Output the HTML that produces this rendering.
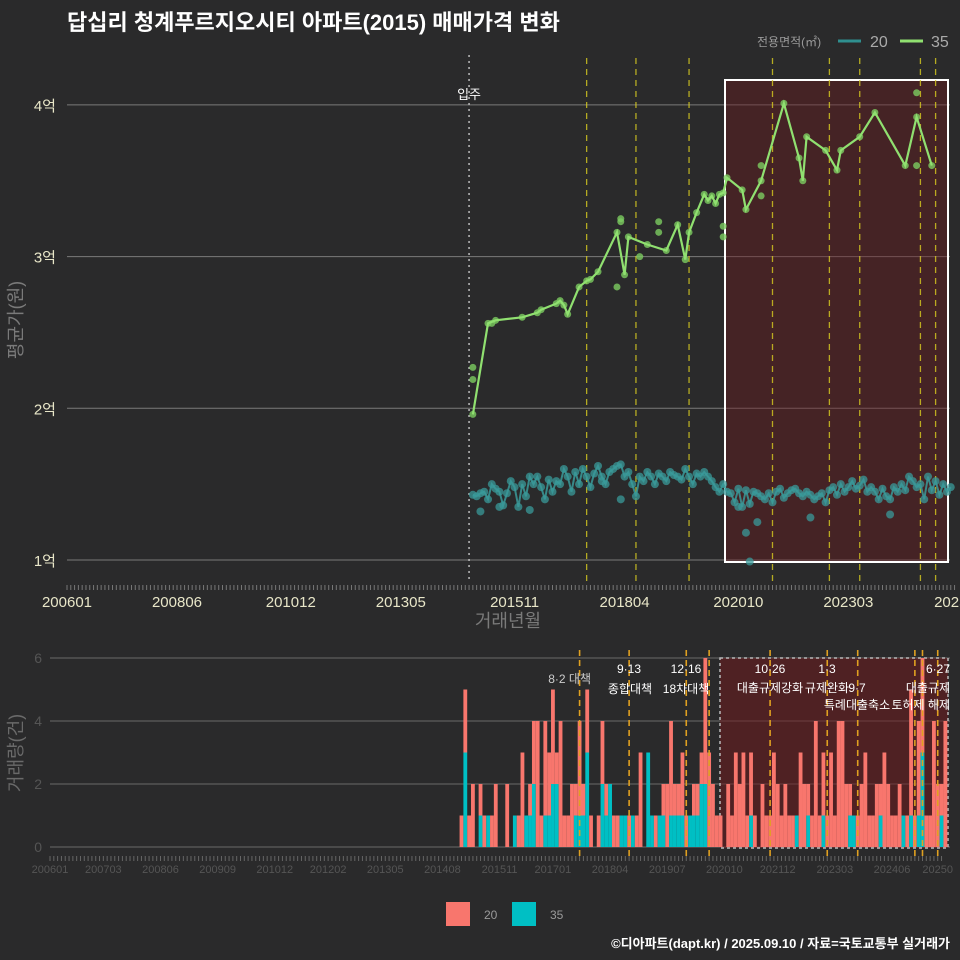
<!DOCTYPE html>
<html><head><meta charset="utf-8">
<style>
html,body{margin:0;padding:0;background:#2a2a2b;}
svg{display:block;font-family:"Liberation Sans","Noto Sans CJK KR",sans-serif;}
</style></head>
<body>
<svg id="chart" width="960" height="960" viewBox="0 0 960 960" xmlns="http://www.w3.org/2000/svg">
<rect width="960" height="960" fill="#2a2a2b"/>
<text x="67" y="30" fill="#ffffff" font-size="22" font-weight="bold">답십리 청계푸르지오시티 아파트(2015) 매매가격 변화</text>
<g>
<text x="757" y="46" fill="#9a9a9a" font-size="12">전용면적(㎡)</text>
<line x1="838" y1="41" x2="861" y2="41" stroke="#2f8f8f" stroke-width="3"/>
<text x="870" y="47" fill="#aaaaaa" font-size="16">20</text>
<line x1="900" y1="41" x2="923" y2="41" stroke="#90e070" stroke-width="3"/>
<text x="931" y="47" fill="#aaaaaa" font-size="16">35</text>
</g>
<g id="topPanel"></g>
<g id="botPanel"></g>
<text transform="translate(22,320) rotate(-90)" text-anchor="middle" fill="#7a7a7a" font-size="18">평균가(원)</text>
<text x="508" y="627" text-anchor="middle" fill="#7a7a7a" font-size="18">거래년월</text>
<text transform="translate(22,753) rotate(-90)" text-anchor="middle" fill="#6a6a6a" font-size="18">거래량(건)</text>
<g>
<rect x="446" y="902" width="24" height="24" fill="#F8766D"/>
<text x="484" y="919" fill="#9a9a9a" font-size="12">20</text>
<rect x="512" y="902" width="24" height="24" fill="#00BFC4"/>
<text x="550" y="919" fill="#9a9a9a" font-size="12">35</text>
</g>
<text x="950" y="948" text-anchor="end" fill="#ffffff" font-size="13" font-weight="bold">©디아파트(dapt.kr) / 2025.09.10 / 자료=국토교통부 실거래가</text>
</svg>
<script>
// ---- data ----
const priceTicks = [1, 2, 3, 4];
const priceTickLabels = ["1억", "2억", "3억", "4억"];
const xTickMonths = ["200601","200806","201012","201305","201511","201804","202010","202303","202506"];
const xTickLabelsTop = ["200601","200806","201012","201305","201511","201804","202010","202303","2025"];
const xTickMonthsBottom = ["200601","200703","200806","200909","201012","201202","201305","201408","201511","201701","201804","201907","202010","202112","202303","202406","202506"];
const xTickLabelsBottom = ["200601","200703","200806","200909","201012","201202","201305","201408","201511","201701","201804","201907","202010","202112","202303","202406","20250"];
const s35Months = ["201412","201504","201506","201601","201605","201606","201610","201611","201612","201701","201704","201706","201707","201709","201802","201804","201805","201810","201903","201906","201908","201909","201911","202001","202002","202003","202004","202005","202006","202007","202011","202012","202104","202110","202202","202203","202204","202209","202212","202301","202306","202310","202406","202409","202501"];
const s35Values = [1.96,2.56,2.58,2.60,2.63,2.65,2.69,2.71,2.68,2.62,2.80,2.84,2.85,2.90,3.16,2.88,3.13,3.08,3.04,3.21,2.98,3.16,3.29,3.41,3.37,3.40,3.35,3.41,3.42,3.52,3.44,3.31,3.50,4.01,3.65,3.50,3.79,3.70,3.57,3.70,3.79,3.95,3.60,3.92,3.60];
const s35ExtraMonths = ["201412","201412","201505","201802","201803","201803","201808","201901","201901","202006","202006","202104","202104","202409","202409"];
const s35ExtraValues = [2.27,2.19,2.56,2.80,3.23,3.25,3.00,3.16,3.23,3.13,3.20,3.40,3.60,4.08,3.60];
const s20StartMonth = "201412";
const s20Values = [1.43,
1.42,1.44,1.45,1.40,1.50,1.47,1.45,1.36,1.44,1.52,1.48,1.35,
1.50,1.42,1.55,1.50,1.55,1.48,1.40,1.53,1.45,1.52,1.50,1.60,
1.55,1.45,1.58,1.50,1.60,1.55,1.48,1.57,1.62,1.55,1.50,1.58,
1.60,1.62,1.63,1.55,1.58,1.50,1.42,1.55,1.52,1.58,1.55,1.50,
1.57,1.55,1.52,1.58,1.56,1.55,1.53,1.60,1.55,1.50,1.57,1.55,
1.58,1.55,1.52,1.48,1.45,1.50,1.45,1.44,1.38,1.47,1.35,1.46,
1.37,1.45,1.44,1.42,1.40,1.44,1.38,1.45,1.47,1.41,1.44,1.46,
1.47,1.44,1.42,1.45,1.43,1.40,1.42,1.44,1.38,1.46,1.48,1.43,
1.50,1.45,1.48,1.52,1.47,1.49,1.53,1.45,1.48,1.45,1.40,1.47,
1.42,1.40,1.48,1.45,1.50,1.46,1.55,1.52,1.48,1.50,1.40,1.55,
1.46,1.52,1.43,1.50,1.45,1.48];
const s20ExtraMonths = ["201502","201507","201603","201710","201803","202010","202012","202101","202103","202205","202402"];
const s20ExtraValues = [1.32,1.35,1.33,1.52,1.40,1.35,1.18,0.99,1.25,1.28,1.30];
const volStartMonth = "201501";
const vol20 = [1,2,1,2,0,1,1,0,1,2,0,0, 2,0,0,1,3,0,1,2,4,1,3,2, 3,1,4,1,1,2,1,3,1,2,1,0, 1,2,1,0,1,1,0,0,1,0,1,3, 0,0,0,1,0,1,2,3,1,1,2,1, 0,1,1,1,4,3,2,1,1,0,2,1, 3,2,3,1,2,1,0,2,1,1,3,2, 1,2,1,1,0,3,2,1,1,4,1,2, 1,3,1,4,4,2,1,0,1,2,3,1, 1,2,1,3,2,1,1,2,0,1,4,1, 3,3,1,1,4,2,1,4];
const vol35 = [0,3,0,0,0,1,0,1,0,0,0,0, 0,0,1,0,0,1,1,2,0,0,1,1, 2,2,0,0,0,0,1,1,1,3,0,0, 0,2,1,2,0,0,1,1,0,1,0,0, 0,3,1,0,1,1,0,1,1,1,1,0, 1,1,1,2,2,0,0,0,0,0,0,0, 0,0,0,0,1,0,0,0,0,0,0,0, 0,0,0,0,1,0,0,1,0,0,0,1, 0,0,0,0,0,0,1,1,0,0,0,0, 0,0,1,0,0,0,0,0,1,0,1,0, 1,3,0,0,0,0,1,0];
const volTicks = [0,2,4,6];
const policyMonthsTop = ["201706","201807","201909","202107","202210","202306","202410","202502"];
const policyMonthsBottom = ["201708","201809","201912","202006","202110","202301","202309","202412","202502","202506"];
const moveInMonth = "201411";

// ---- helpers ----
const NS = "http://www.w3.org/2000/svg";
function mi(s){ return (parseInt(s.slice(0,4))-2006)*12 + parseInt(s.slice(4,6))-1; }
function el(tag, attrs, parent){ const e=document.createElementNS(NS,tag); for(const k in attrs) e.setAttribute(k,attrs[k]); parent.appendChild(e); return e; }
const xT = m => 67 + m*3.793;
const yT = v => 560 - (v-1)*151.7;
const xB = m => 50 + m*3.81;
const yB = v => 847 - v*31.5;
const topG = document.getElementById('topPanel');
const botG = document.getElementById('botPanel');

// ---- top panel ----
for(let i=0;i<priceTicks.length;i++){
  const g=el('line',{x1:67,x2:950,y1:yT(priceTicks[i]),y2:yT(priceTicks[i]),stroke:'#7a7a7a','stroke-width':1},topG);
  
  
  const t=el('text',{x:56,y:yT(priceTicks[i])+6,'text-anchor':'end',fill:'#e8e6c8','font-size':15},topG);
  t.textContent=priceTickLabels[i];
  
  
}
const hl=el('rect',{x:725,y:80,width:223,height:482,fill:'rgba(110,25,30,0.4)',stroke:'#ffffff','stroke-width':2},topG);


for(let m=0;m<=234;m++){
  const tk=el('line',{x1:xT(m),x2:xT(m),y1:585,y2:590,stroke:'#777','stroke-width':1},topG);
  
  
}
for(let i=0;i<xTickMonths.length;i++){
  const t=el('text',{x:xT(mi(xTickMonths[i])),y:607,'text-anchor':'middle',fill:'#e8e6c8','font-size':15},topG);
  t.textContent=xTickLabelsTop[i];
  
  
}
const mv=el('line',{x1:xT(mi(moveInMonth)),x2:xT(mi(moveInMonth)),y1:55,y2:583,stroke:'#bbbbbb','stroke-width':1.5,'stroke-dasharray':'2,4'},topG);


const mvt=el('text',{x:xT(mi(moveInMonth)),y:99,'text-anchor':'middle',fill:'#ffffff','font-size':13},topG);
mvt.textContent='입주';


for(const p of policyMonthsTop){
  const l=el('line',{x1:xT(mi(p)),x2:xT(mi(p)),y1:58,y2:583,stroke:'#d8cc20','stroke-opacity':0.8,'stroke-width':1.3,'stroke-dasharray':'6,5'},topG);
  
  
}
// series 20
const s20m0=mi(s20StartMonth);
let d20='';
s20Values.forEach((v,i)=>{ d20+=(i?'L':'M')+xT(s20m0+i).toFixed(1)+','+yT(v).toFixed(1); });
for(let i=0;i<s20ExtraMonths.length;i++){
  const c=el('circle',{cx:xT(mi(s20ExtraMonths[i])),cy:yT(s20ExtraValues[i]),r:4,fill:'#3a9a9a','fill-opacity':0.75},topG);
  
  
}
s20Values.forEach((v,i)=>{
  const c=el('circle',{cx:xT(s20m0+i),cy:yT(v),r:4,fill:'#3a9a9a','fill-opacity':0.75},topG);
  
  
});
const p20=el('path',{d:d20,fill:'none',stroke:'#3a9a9a','stroke-width':2,'stroke-opacity':0.85},topG);


// series 35
let d35='';
s35Months.forEach((m,i)=>{ d35+=(i?'L':'M')+xT(mi(m)).toFixed(1)+','+yT(s35Values[i]).toFixed(1); });
for(let i=0;i<s35ExtraMonths.length;i++){
  const c=el('circle',{cx:xT(mi(s35ExtraMonths[i])),cy:yT(s35ExtraValues[i]),r:3.5,fill:'#7ccc60','fill-opacity':0.8},topG);
  
  
}
s35Months.forEach((m,i)=>{
  const c=el('circle',{cx:xT(mi(m)),cy:yT(s35Values[i]),r:3.5,fill:'#7ccc60','fill-opacity':0.8},topG);
  
  
});
const p35=el('path',{d:d35,fill:'none',stroke:'#90e070','stroke-width':2.2},topG);



// ---- bottom panel ----
for(const v of volTicks){
  const g=el('line',{x1:50,x2:950,y1:yB(v),y2:yB(v),stroke:'#6a6a6a','stroke-width':1},botG);
  
  
  const t=el('text',{x:42,y:yB(v)+5,'text-anchor':'end',fill:'#555555','font-size':14},botG);
  t.textContent=String(v);
  
  
}
const hb=el('rect',{x:720,y:658,width:228,height:190,fill:'rgba(110,25,30,0.55)',stroke:'#bbbbbb','stroke-width':1.5,'stroke-dasharray':'3,3'},botG);


const vm0=mi(volStartMonth);
for(let i=0;i<vol20.length;i++){
  const x=xB(vm0+i)-1.9, w=3.81;
  const a=vol35[i], b=vol20[i];
  if(a>0){ const r=el('rect',{x:x,y:yB(a),width:w,height:yB(0)-yB(a),fill:'#00BFC4'},botG);
    
     }
  if(b>0){ const r=el('rect',{x:x,y:yB(a+b),width:w,height:yB(a)-yB(a+b),fill:'#F8766D'},botG);
    
     }
}
for(const p of policyMonthsBottom){
  const l=el('line',{x1:xB(mi(p)),x2:xB(mi(p)),y1:650,y2:858,stroke:'#e0a020','stroke-width':1.6,'stroke-dasharray':'6,4'},botG);
  
  
}
for(let m=0;m<=234;m++){
  const tk=el('line',{x1:xB(m),x2:xB(m),y1:856,y2:861,stroke:'#666','stroke-width':1},botG);
  
  
}
for(let i=0;i<xTickMonthsBottom.length;i++){
  const t=el('text',{x:xB(mi(xTickMonthsBottom[i])),y:873,'text-anchor':'middle',fill:'#555555','font-size':11},botG);
  t.textContent=xTickLabelsBottom[i];
  
  
}
const notes=[["8·2 대책",591,683,'end',"#cccccc"],["9·13",629,673,'middle',"#ffffff"],["종합대책",630,693,'middle',"#ffffff"],["12·16",686,673,'middle',"#ffffff"],["18차대책",686,693,'middle',"#ffffff"],["10·26",770,673,'middle',"#ffffff"],["대출규제강화",770,692,'middle',"#ffffff"],["1·3",827,673,'middle',"#ffffff"],["규제완화",827,692,'middle',"#ffffff"],["9·7",857,692,'middle',"#ffffff"],["특례대출축소",857,709,'middle',"#ffffff"],["토허제 해제",950,709,'end',"#ffffff"],["6·27",950,673,'end',"#ffffff"],["대출규제",950,692,'end',"#ffffff"]];
for(const n of notes){
  const t=el('text',{x:n[1],y:n[2],'text-anchor':n[3],fill:n[4],'font-size':12},botG);
  t.textContent=n[0];
  
  
}
</script>
</body></html>
